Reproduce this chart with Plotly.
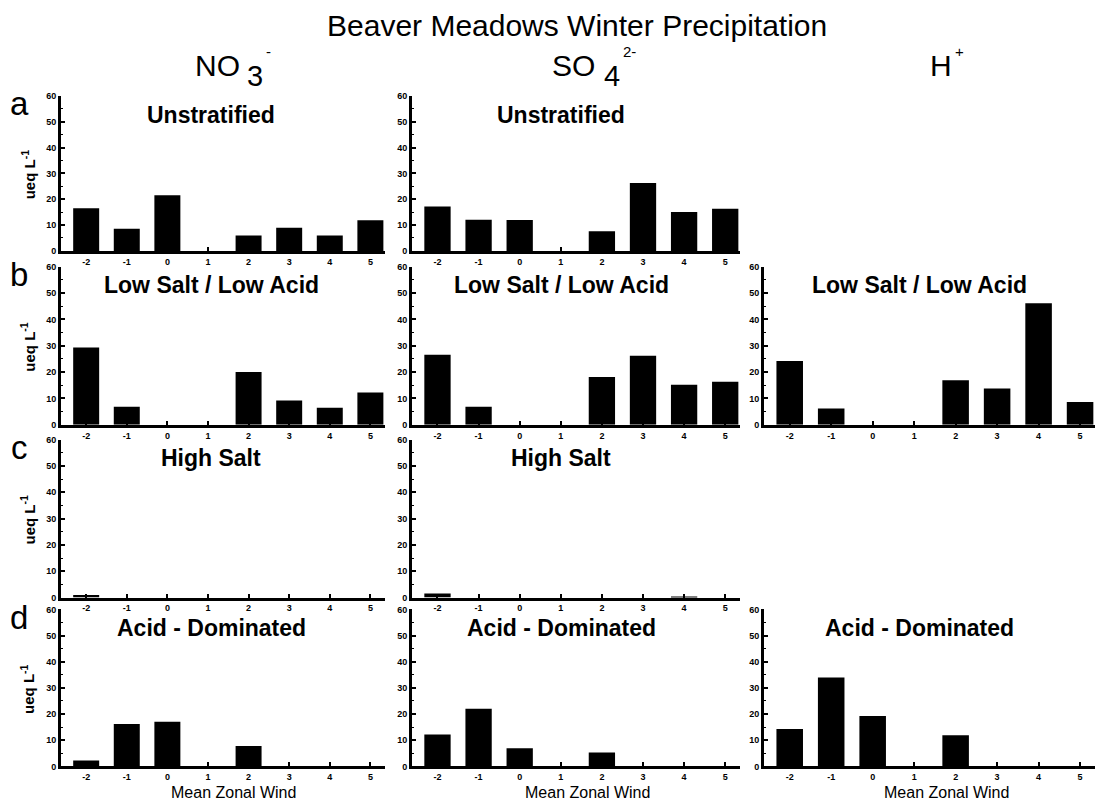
import plotly.graph_objects as go

# ---------------- data ----------------
wind = [-2, -1, 0, 1, 2, 3, 4, 5]
wind_labels = ["-2", "-1", "0", "1", "2", "3", "4", "5"]
y_ticks = [0, 10, 20, 30, 40, 50, 60]

no3_unstratified = [16.5, 8.6, 21.5, 0, 6.0, 9.0, 6.0, 11.9]
so4_unstratified = [17.2, 12.1, 12.0, 0, 7.6, 26.3, 15.1, 16.3]

no3_low_salt = [29.3, 6.8, 0, 0, 20.0, 9.2, 6.4, 12.2]
so4_low_salt = [26.6, 6.8, 0, 0, 18.1, 26.2, 15.2, 16.3]
h_low_salt = [24.2, 6.2, 0, 0, 16.9, 13.8, 46.1, 8.6]

no3_high_salt = [1.0, 0, 0, 0, 0, 0, 0, 0]
so4_high_salt = [1.5, 0, 0, 0, 0, 0, 0.3, 0]

no3_acid = [2.3, 16.2, 17.1, 0, 7.8, 0, 0, 0]
so4_acid = [12.2, 22.0, 6.9, 0, 5.3, 0, 0, 0]
h_acid = [14.3, 34.0, 19.3, 0, 11.9, 0, 0, 0]

row_titles = ["Unstratified", "Low Salt / Low Acid", "High Salt", "Acid - Dominated"]
row_letters = ["a", "b", "c", "d"]

# (row, col, values)
panels = [
    (0, 0, no3_unstratified), (0, 1, so4_unstratified),
    (1, 0, no3_low_salt), (1, 1, so4_low_salt), (1, 2, h_low_salt),
    (2, 0, no3_high_salt), (2, 1, so4_high_salt),
    (3, 0, no3_acid), (3, 1, so4_acid), (3, 2, h_acid),
]

# ---------------- layout geometry (pixels) ----------------
W, H = 1099, 805
col_px = [(61, 385), (412, 740), (764, 1095)]
row_px = [(92, 249), (265, 425), (440, 600), (612, 771)]
title_cx = [211, 561, 919]
xlabel_cx = [233, 587, 946]

def px(x):
    return x / W

def py(y):
    return 1 - y / H

FONT = "Liberation Sans, Arial, Helvetica, sans-serif"

fig = go.Figure()
layout = dict(
    width=W, height=H,
    margin=dict(l=0, r=0, t=0, b=0),
    paper_bgcolor="white", plot_bgcolor="white",
    showlegend=False,
)

annotations = []
for i, (r, c, vals) in enumerate(panels, start=1):
    xa = "x" if i == 1 else f"x{i}"
    ya = "y" if i == 1 else f"y{i}"
    fig.add_trace(go.Bar(x=wind, y=vals, xaxis=xa, yaxis=ya,
                         marker=dict(color="black", line=dict(width=0)),
                         width=0.64))
    x0, x1 = col_px[c]
    y0, y1 = row_px[r]
    layout["xaxis" if i == 1 else f"xaxis{i}"] = dict(
        domain=[px(x0), px(x1)], anchor=ya, range=[-2.62, 5.36],
        tickvals=wind, ticktext=wind_labels,
        showline=True, linewidth=3, linecolor="black",
        ticks="inside", ticklen=4, tickwidth=2, tickcolor="black",
        showgrid=False, zeroline=False,
        tickfont=dict(family=FONT, size=9, color="black", weight="bold"),
        fixedrange=True,
    )
    layout["yaxis" if i == 1 else f"yaxis{i}"] = dict(
        domain=[py(y1), py(y0)], anchor=xa, range=[0, 60],
        tickvals=y_ticks,
        showline=True, linewidth=3, linecolor="black",
        ticks="inside", ticklen=4, tickwidth=2, tickcolor="black",
        minor=dict(dtick=5, ticks="inside", ticklen=2, tickwidth=1, tickcolor="black"),
        showgrid=False, zeroline=False,
        tickfont=dict(family=FONT, size=9, color="black", weight="bold"),
        fixedrange=True,
    )
    # panel title
    annotations.append(dict(
        x=px(title_cx[c]), y=py(y0 + 19), xref="paper", yref="paper",
        text=row_titles[r], showarrow=False, xanchor="center", yanchor="middle",
        font=dict(family=FONT, size=23, color="black", weight="bold"),
    ))
    if r == 3:
        annotations.append(dict(
            x=px(xlabel_cx[c]), y=py(797), xref="paper", yref="paper",
            text="Mean Zonal Wind", showarrow=False, xanchor="center", yanchor="middle",
            font=dict(family=FONT, size=16, color="black"),
        ))

# row letters and y-axis titles
for r in range(4):
    y0, y1 = row_px[r]
    annotations.append(dict(
        x=px(19), y=py(y0 + 8), xref="paper", yref="paper",
        text=row_letters[r], showarrow=False, xanchor="center", yanchor="middle",
        font=dict(family=FONT, size=33, color="black"),
    ))
    annotations.append(dict(
        x=px(28), y=py((y0 + y1) / 2 + 2), xref="paper", yref="paper",
        text="ueq L<sup>-1</sup>", showarrow=False, textangle=-90,
        xanchor="center", yanchor="middle",
        font=dict(family=FONT, size=15, color="black", weight="bold"),
    ))

# main title
annotations.append(dict(
    x=px(577), y=py(21), xref="paper", yref="paper",
    text="Beaver Meadows Winter Precipitation", showarrow=False,
    xanchor="center", yanchor="middle",
    font=dict(family=FONT, size=30, color="black"),
))

# column headers (ion formulas) built from base, subscript and charge
headers = [
    ("NO", "3", "-", 193),
    ("SO", "4", "2-", 550),
    ("H", "", "+", 928),
]
for base, sub, chg, x_start in headers:
    annotations.append(dict(
        x=px(x_start), y=py(61), xref="paper", yref="paper", text=base,
        showarrow=False, xanchor="left", yanchor="middle",
        font=dict(family=FONT, size=30, color="black"),
    ))
    base_w = 45 if len(base) == 2 else 22
    xs = x_start + base_w + 7
    if sub:
        annotations.append(dict(
            x=px(xs), y=py(72), xref="paper", yref="paper", text=sub,
            showarrow=False, xanchor="left", yanchor="middle",
            font=dict(family=FONT, size=29, color="black"),
        ))
        xs += 19
    else:
        xs -= 4
    annotations.append(dict(
        x=px(xs), y=py(47), xref="paper", yref="paper", text=chg,
        showarrow=False, xanchor="left", yanchor="middle",
        font=dict(family=FONT, size=15, color="black"),
    ))

layout["annotations"] = annotations
fig.update_layout(**layout)
fig.write_html("out.html")
